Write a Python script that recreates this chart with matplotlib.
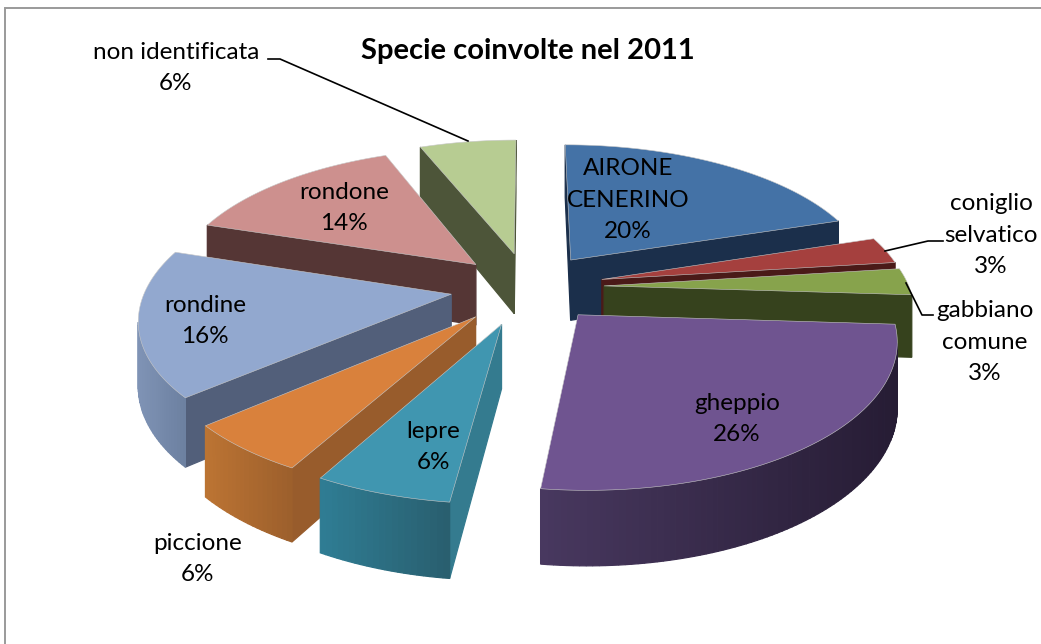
import numpy as np
import matplotlib
matplotlib.use("Agg")
import matplotlib.pyplot as plt
from matplotlib.patches import Polygon
from matplotlib.colors import to_rgb

categories = ["AIRONE\nCENERINO", "coniglio\nselvatico", "gabbiano\ncomune", "gheppio",
              "lepre", "piccione", "rondine", "rondone", "non identificata"]
values = [20, 3, 3, 26, 6, 5.6, 16.4, 14, 6]
pct_labels = ["20%", "3%", "3%", "26%", "6%", "6%", "16%", "14%", "6%"]
title = "Specie coinvolte nel 2011"

explode = [0.245, 0.25, 0.25, 0.25, 0.27, 0.265, 0.255, 0.24, 0.25]
top_colors = ["#4472a6", "#a5403e", "#87a34c", "#6f5490", "#4096b0", "#d9813c", "#92a8cf", "#cd908e", "#b7cc92"]
radial_colors = ["#1b2f4b", "#4a1a18", "#36421d", "#2c2140", "#347b8f", "#985c2c", "#525f7a", "#553635", "#4d5539"]
arc_left = ["#1b2f4b", "#4a1a18", "#36421d", "#48385f", "#2f7d94", "#bc7433", "#7f93b5", "#553635", "#4d5539"]
arc_right = ["#1b2f4b", "#4a1a18", "#36421d", "#261c34", "#295e6e", "#9c5f2c", "#6c80a0", "#553635", "#4d5539"]
draw_order = [8, 0, 7, 1, 2, 6, 5, 4, 3]

CX, CY, A, F, K, H = 528, 287, 305, 140, 0.15, 62


def project(u, v):
    s = 1 / (1 - K * v)
    return CX + A * u * s, CY + F * v * s, H * s


fig = plt.figure(figsize=(10.41, 6.44), dpi=100)
ax = fig.add_axes([0, 0, 1, 1])
ax.set_xlim(0, 1041)
ax.set_ylim(644, 0)
ax.axis("off")

ax.plot([5, 5, 1041], [644, 7.5, 7.5], color="#9a9a9a", lw=1.4, solid_joinstyle="miter")

fr = np.array(values, float) / sum(values)
edges = np.concatenate([[0], np.cumsum(fr)]) * 2 * np.pi


def quad(p, q, color, z):
    ax.add_patch(Polygon([(p[0], p[1]), (q[0], q[1]), (q[0], q[1] + q[2]), (p[0], p[1] + p[2])],
                         closed=True, fc=color, ec=color, lw=0.9, zorder=z))


def facing(p, q):
    return (q[0] - p[0]) < 0


for rank, i in enumerate(draw_order):
    z = 2 + rank
    t0, t1 = edges[i], edges[i + 1]
    mid = (t0 + t1) / 2
    ou, ov = explode[i] * np.sin(mid), -explode[i] * np.cos(mid)
    ts = np.linspace(t0, t1, max(int(np.degrees(t1 - t0)), 4) + 1)
    us, vs = ou + np.sin(ts), ov - np.cos(ts)
    apex = project(ou, ov)
    arc = [project(a, b) for a, b in zip(us, vs)]
    outline = [apex] + arc

    for p, q in [(apex, arc[0]), (arc[-1], apex)]:
        if facing(p, q):
            quad(p, q, radial_colors[i], z)
    L, R = np.array(to_rgb(arc_left[i])), np.array(to_rgb(arc_right[i]))
    xs = [p[0] for p in arc]
    for p, q in zip(arc[:-1], arc[1:]):
        if facing(p, q):
            t = ((p[0] + q[0]) / 2 - min(xs)) / max(max(xs) - min(xs), 1)
            quad(p, q, tuple(L + (R - L) * t), z + 0.1)
    ax.add_patch(Polygon([(p[0], p[1]) for p in outline], closed=True, fc=top_colors[i],
                         ec="#c8c8c8", lw=0.4, zorder=z + 0.2))

FONT = "Lato"
FS = 17.5
label_pos = [(628, 200), (991, 235), (985, 342), (737, 419), (433, 447),
             (198, 559), (205, 321), (344, 208), (176, 68)]
for i in range(len(values)):
    ax.text(label_pos[i][0], label_pos[i][1], categories[i] + "\n" + pct_labels[i], ha="center",
            va="center", family=FONT, fontsize=FS, linespacing=1.6, color="black", zorder=30)

ax.text(528, 51, title, ha="center", va="center", family=FONT, fontsize=21, fontweight="bold",
        color="black", zorder=30)

for lx, ly in [([268, 280, 468], [59, 59, 141]),
               ([885, 928, 943], [251, 241, 241]),
               ([906, 922, 933], [283, 315, 315])]:
    ax.plot(lx, ly, color="black", lw=1.2, zorder=31)

fig.savefig("out.png", dpi=100)
